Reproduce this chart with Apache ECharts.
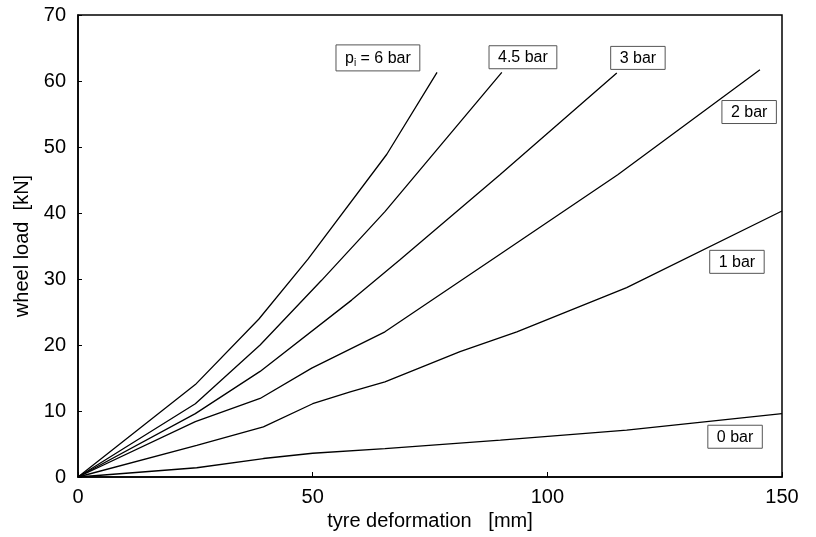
<!DOCTYPE html>
<html>
<head>
<meta charset="utf-8">
<script src="https://cdn.jsdelivr.net/npm/echarts@6/dist/echarts.min.js"></script>
<style>
  html, body { margin: 0; padding: 0; background: #fff; }
  #chart { width: 816px; height: 537px; }
</style>
</head>
<body>
<div id="chart"></div>
<script>
// tyre deformation [mm] / wheel load [kN]
var bar6 = [[0, 0], [25, 14], [38.5, 23.9], [49, 33], [65.8, 48.9], [76.5, 61.3]];
var bar45 = [[0, 0], [25, 11.1], [38.8, 20], [51.9, 29.8], [65.4, 40.2], [90.3, 61.3]];
var bar3 = [[0, 0], [25, 9.6], [38.8, 16], [58.3, 26.8], [68.6, 32.9], [89.9, 45.8], [114.8, 61.2]];
var bar2 = [[0, 0], [25, 8.4], [38.8, 11.9], [49.8, 16.5], [65.4, 22], [90, 33.8], [115, 45.8], [145.3, 61.7]];
var bar1 = [[0, 0], [25.3, 4.8], [39.5, 7.6], [50, 11.1], [58, 12.9], [65.4, 14.4], [81.4, 19], [93.5, 22], [116.9, 28.7], [150, 40.3]];
var bar0 = [[0, 0], [25.3, 1.4], [39.5, 2.8], [50, 3.6], [65.4, 4.3], [90, 5.6], [116.9, 7.1], [150, 9.6]];

var curves = [bar6, bar45, bar3, bar2, bar1, bar0];
var curveNames = ['6 bar', '4.5 bar', '3 bar', '2 bar', '1 bar', '0 bar'];
// label anchors (data coords)
var labelAt = [[63.9, 63.5], [94.8, 63.6], [119.3, 63.5], [143, 55.3], [140.4, 32.6], [140, 6.1]];
var labelText = ['{t|p}{s|i}{t| = 6 bar}', '{t|4.5 bar}', '{t|3 bar}', '{t|2 bar}', '{t|1 bar}', '{t|0 bar}'];

var xTicks = [0, 50, 100, 150];

var chart = echarts.init(document.getElementById('chart'));

var series = curves.map(function (d, i) {
  return {
    name: curveNames[i],
    type: 'line',
    data: d,
    showSymbol: false,
    symbol: 'none',
    silent: true,
    lineStyle: { color: '#000', width: 1.3 },
    markPoint: {
      symbol: 'rect',
      symbolSize: 1,
      itemStyle: { color: 'rgba(0,0,0,0)' },
      data: [{ coord: labelAt[i] }],
      label: {
        show: true,
        position: 'inside',
        formatter: labelText[i],
        borderColor: '#555',
        borderWidth: 1,
        padding: [4, 9, 3, 9],
        rich: {
          t: { fontFamily: 'Liberation Sans', fontSize: 16, color: '#000' },
          s: { fontFamily: 'Liberation Sans', fontSize: 10, color: '#000', padding: [9, 0, 0, 0] }
        }
      }
    }
  };
});

chart.setOption({
  backgroundColor: '#fff',
  animation: false,
  grid: {
    left: 78, right: 34, top: 15, bottom: 60,
    show: true, borderColor: '#000', borderWidth: 1.5
  },
  xAxis: {
    type: 'value',
    min: 0, max: 150, interval: 50,
    name: 'tyre deformation   [mm]',
    nameLocation: 'middle',
    nameGap: 33,
    nameTextStyle: { fontFamily: 'Liberation Sans', fontSize: 20, color: '#000' },
    axisLine: { show: true, lineStyle: { color: '#000', width: 1.5 } },
    axisTick: { show: true, inside: true, length: 5, lineStyle: { color: '#000' } },
    axisLabel: {
      fontFamily: 'Liberation Sans', fontSize: 20, color: '#000', margin: 10,
      formatter: function (v) { return xTicks.indexOf(v) >= 0 ? String(v) : ''; }
    },
    splitLine: { show: false }
  },
  yAxis: {
    type: 'value',
    min: 0, max: 70, interval: 10,
    name: 'wheel load  [kN]',
    nameLocation: 'middle',
    nameGap: 46,
    nameTextStyle: { fontFamily: 'Liberation Sans', fontSize: 20, color: '#000' },
    axisLine: { show: true, lineStyle: { color: '#000', width: 1.5 } },
    axisTick: { show: true, inside: true, length: 4, lineStyle: { color: '#000' } },
    axisLabel: { fontFamily: 'Liberation Sans', fontSize: 20, color: '#000', margin: 12 },
    splitLine: { show: false }
  },
  series: series
});
</script>
</body>
</html>
